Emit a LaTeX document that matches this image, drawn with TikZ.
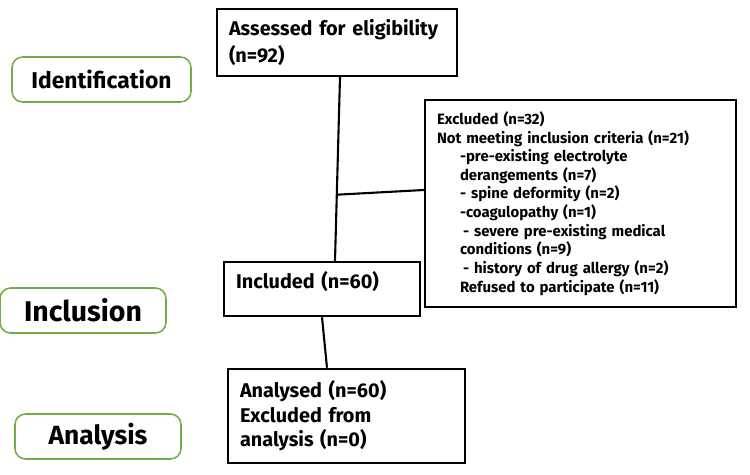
\documentclass[tikz,border=0pt]{standalone}
\usepackage{fontspec}
\setmainfont{Fira Sans}
\usepackage{xcolor}
\usepackage{tikz}
\usetikzlibrary{positioning, calc}
\definecolor{stageGreen}{HTML}{70AD47}
\tikzset{
    box_flow/.style={
        rectangle, draw=black, line width=1.4pt, fill=white,
        inner xsep=0.24cm, align=left,
        font=\bfseries\fontsize{11.3}{15.5}\selectfont
    },
    box_stage/.style={
        rectangle, rounded corners=6pt, draw=stageGreen, line width=0.9pt,
        minimum width=3.32cm, minimum height=0.9cm, align=center
    },
    flow_line/.style={
        draw=black, line width=1.2pt
    }
}

\begin{document}
\begin{tikzpicture}

    \useasboundingbox (0,0) rectangle (15,-9.5);

    % Stage labels (left column)
    \node[box_stage, minimum width=3.58cm, font=\bfseries\fontsize{13}{14}\selectfont] (stage_ident) at (2.03, -1.59) {Identification};
    \node[box_stage, font=\bfseries\fontsize{16.2}{17}\selectfont] (stage_incl) at (1.66, -6.21) {Inclusion};
    \node[box_stage, font=\bfseries\fontsize{15}{16}\selectfont] (stage_anal) at (1.96, -8.73) {Analysis};

    % Flow boxes
    \node[box_flow, text width=4.32cm, minimum height=1.34cm] (assessed) at (6.74, -0.85) {
        Assessed for eligibility\\
        (n=92)
    };
    \node[box_flow, text width=5.74cm, minimum height=4.14cm, font=\bfseries\fontsize{8.5}{10.6}\selectfont] (excluded) at (11.61, -4.07) {
        Excluded (n=32)\\
        Not meeting inclusion criteria (n=21)\\
        \hspace*{0.46cm}-pre-existing electrolyte\\
        \hspace*{0.46cm}derangements (n=7)\\
        \hspace*{0.46cm}- spine deformity (n=2)\\
        \hspace*{0.46cm}-coagulopathy (n=1)\\
        \hspace*{0.52cm}- severe pre-existing medical\\
        \hspace*{0.46cm}conditions (n=9)\\
        \hspace*{0.52cm}- history of drug allergy (n=2)\\
        \hspace*{0.46cm}Refused to participate (n=11)
    };
    \node[box_flow, text width=3.44cm, minimum height=1.08cm, text depth=0.35cm] (included) at (6.44, -5.78) {
        Included (n=60)
    };
    \node[box_flow, text width=4.26cm, minimum height=1.88cm, font=\bfseries\fontsize{11.3}{13.9}\selectfont] (analysed) at (6.93, -8.32) {
        Analysed (n=60)\\
        Excluded from\\
        analysis (n=0)
    };

    % Connectors
    \draw[flow_line] ([xshift=0.06cm]assessed.south) -- coordinate[pos=0.64] (branch) ([xshift=0.26cm]included.north);
    \draw[flow_line] (branch) -- ([yshift=0.27cm]excluded.west);
    \draw[flow_line] (included.south) -- ([xshift=-0.39cm]analysed.north);

\end{tikzpicture}
\end{document}
